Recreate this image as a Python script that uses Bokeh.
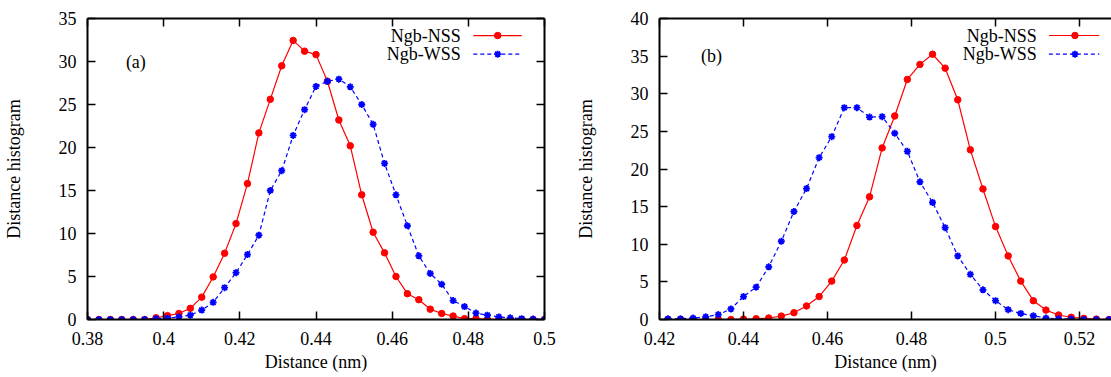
from bokeh.plotting import figure
from bokeh.layouts import row
from bokeh.models import LinearAxis, FixedTicker, CustomJSTickFormatter, Range1d
from bokeh.core.properties import value
from bokeh.embed import file_html
from bokeh.resources import INLINE

# ---------------- data ----------------
series_names = ["Ngb-NSS", "Ngb-WSS"]

dist_a = [0.380, 0.383, 0.386, 0.389, 0.392, 0.395, 0.398, 0.401, 0.404, 0.407,
          0.410, 0.413, 0.416, 0.419, 0.422, 0.425, 0.428, 0.431, 0.434, 0.437,
          0.440, 0.443, 0.446, 0.449, 0.452, 0.455, 0.458, 0.461, 0.464, 0.467,
          0.470, 0.473, 0.476, 0.479, 0.482, 0.485, 0.488, 0.491, 0.494, 0.497,
          0.500]
nss_a = [0, 0, 0, 0, 0, 0, 0.2, 0.45, 0.7, 1.3,
         2.6, 4.95, 7.7, 11.15, 15.8, 21.7, 25.6, 29.5, 32.45, 31.2,
         30.8, 27.7, 23.2, 20.2, 14.5, 10.15, 7.75, 5.0, 3.0, 2.3,
         1.2, 0.7, 0.4, 0.1, 0.1, 0, 0, 0, 0, 0,
         0]
wss_a = [0, 0, 0, 0, 0, 0, 0.1, 0.15, 0.3, 0.5,
         1.1, 2.0, 3.7, 5.45, 7.55, 9.8, 15.0, 17.3, 21.4, 24.4,
         27.1, 27.7, 27.95, 27.05, 25.0, 22.7, 18.15, 14.5, 10.9, 7.4,
         5.35, 4.1, 2.2, 1.5, 0.75, 0.5, 0.3, 0.2, 0.1, 0.05,
         0]

dist_b = [0.422, 0.425, 0.428, 0.431, 0.434, 0.437, 0.440, 0.443, 0.446, 0.449,
          0.452, 0.455, 0.458, 0.461, 0.464, 0.467, 0.470, 0.473, 0.476, 0.479,
          0.482, 0.485, 0.488, 0.491, 0.494, 0.497, 0.500, 0.503, 0.506, 0.509,
          0.512, 0.515, 0.518, 0.521, 0.524, 0.527]
nss_b = [0, 0, 0, 0, 0, 0, 0.05, 0.1, 0.2, 0.45,
         0.9, 1.8, 3.05, 5.1, 7.9, 12.5, 16.3, 22.8, 27.05, 31.9,
         33.9, 35.25, 33.4, 29.2, 22.55, 17.35, 12.35, 8.45, 5.1, 2.5,
         1.25, 0.6, 0.3, 0.15, 0.05, 0]
wss_b = [0.1, 0.1, 0.2, 0.35, 0.65, 1.4, 3.05, 4.3, 7.0, 10.4,
         14.35, 17.4, 21.5, 24.3, 28.15, 28.15, 26.9, 26.95, 24.75, 22.35,
         18.3, 15.55, 12.2, 8.45, 6.0, 3.95, 2.5, 1.3, 0.8, 0.5,
         0.2, 0.1, 0.05, 0, 0, 0]

xticks_a = [0.38, 0.40, 0.42, 0.44, 0.46, 0.48, 0.50]
yticks_a = [0, 5, 10, 15, 20, 25, 30, 35]
xticks_b = [0.42, 0.44, 0.46, 0.48, 0.50, 0.52]
yticks_b = [0, 5, 10, 15, 20, 25, 30, 35, 40]

# ---------------- style ----------------
FONT = "Liberation Serif"
FS = "18px"
RED = "#ff0000"
BLUE = "#0000ff"
H = 377

fmt_code = "return String(Number(tick.toFixed(3)));"


def style_axis(ax, ticks, show_labels=True):
    ax.ticker = FixedTicker(ticks=ticks)
    ax.major_tick_in = 8
    ax.major_tick_out = 0
    ax.minor_tick_line_color = None
    ax.axis_line_width = 2
    ax.axis_line_color = "black"
    ax.major_tick_line_width = 1.5
    ax.major_tick_line_color = "black"
    ax.major_label_text_font = FONT
    ax.major_label_text_color = "black"
    ax.axis_label_text_font = FONT
    ax.axis_label_text_font_size = FS
    ax.axis_label_text_font_style = "normal"
    ax.axis_label_text_color = "black"
    if show_labels:
        ax.formatter = CustomJSTickFormatter(code=fmt_code)
        ax.major_label_text_font_size = FS
        ax.major_label_standoff = 11
    else:
        ax.formatter = CustomJSTickFormatter(code="return '';")
        ax.major_label_text_font_size = "1px"
        ax.major_label_standoff = 0


def make_panel(xr, yr, width, bl, br, xt, yt, right_frame):
    p = figure(width=width, height=H, x_range=Range1d(*xr), y_range=Range1d(*yr),
               output_backend="svg", toolbar_location=None,
               min_border_left=bl, min_border_right=br,
               min_border_top=18, min_border_bottom=H - 18 - 301)
    p.outline_line_color = None
    p.grid.visible = False
    p.background_fill_color = "white"
    p.border_fill_color = "white"
    style_axis(p.xaxis[0], xt)
    style_axis(p.yaxis[0], yt)
    p.xaxis[0].axis_label = "Distance (nm)"
    p.xaxis[0].major_label_standoff = 12
    p.xaxis[0].axis_label_standoff = 4
    p.yaxis[0].axis_label = "Distance histogram"
    p.yaxis[0].axis_label_standoff = 32
    top = LinearAxis()
    style_axis(top, xt, show_labels=False)
    p.add_layout(top, "above")
    if right_frame:
        rt = LinearAxis()
        style_axis(rt, yt, show_labels=False)
        p.add_layout(rt, "right")
    return p


def draw_series(p, x, nss, wss):
    p.line(x, nss, line_color=RED, line_width=1.2)
    p.scatter(x, nss, marker="circle", size=6.5, fill_color=RED, line_color=RED)
    p.line(x, wss, line_color=BLUE, line_width=1.2, line_dash="4 3")
    p.scatter(x, wss, marker="asterisk", size=7, line_color=BLUE, line_width=1.8)


def draw_legend(p, text_x, line_x0, line_x1, mark_x, ys):
    p.text(x=[text_x, text_x], y=ys, text=series_names, text_align="right",
           text_baseline="middle", text_font=value(FONT), text_font_size=FS,
           text_color="black")
    p.line([line_x0, line_x1], [ys[0], ys[0]], line_color=RED, line_width=1.2)
    p.scatter([mark_x], [ys[0]], marker="circle", size=6.5, fill_color=RED, line_color=RED)
    p.line([line_x0, line_x1], [ys[1], ys[1]], line_color=BLUE, line_width=1.2, line_dash="4 3")
    p.scatter([mark_x], [ys[1]], marker="asterisk", size=7, line_color=BLUE, line_width=1.8)


# panel (a)
pa = make_panel((0.38, 0.50), (0, 35), 569, 82, 25, xticks_a, yticks_a, True)
draw_series(pa, dist_a, nss_a, wss_a)
draw_legend(pa, 0.4780, 0.4813, 0.4940, 0.4877, [33.02, 30.85])
pa.text(x=[0.3927], y=[30], text=["(a)"], text_align="center", text_baseline="middle",
        text_font=value(FONT), text_font_size=FS, text_color="black")

# panel (b)
pb = make_panel((0.42, 0.5276), (0, 40), 542, 90, 0, xticks_b, yticks_b, False)
draw_series(pb, dist_b, nss_b, wss_b)
draw_legend(pb, 0.5098, 0.5127, 0.5247, 0.5189, [37.74, 35.26])
pb.text(x=[0.4324], y=[35], text=["(b)"], text_align="center", text_baseline="middle",
        text_font=value(FONT), text_font_size=FS, text_color="black")

layout = row(pa, pb, spacing=0)
open("out.html", "w").write(file_html(layout, INLINE))
